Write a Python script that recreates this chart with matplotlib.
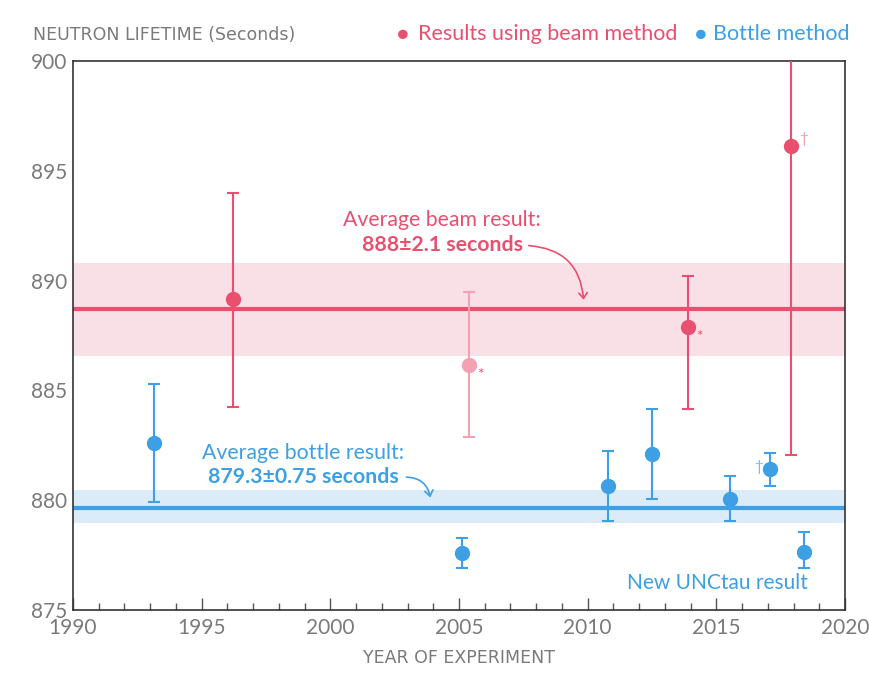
import matplotlib
matplotlib.use("Agg")
import matplotlib.pyplot as plt
from matplotlib.patches import FancyArrowPatch
from matplotlib.ticker import MultipleLocator

plt.rcParams['font.family'] = ['Lato', 'DejaVu Sans']

# Beam method results
beam_years = [1996.2, 2013.9, 2017.9]
beam_vals = [889.15, 887.9, 896.15]
beam_lo = [884.25, 884.15, 882.05]
beam_hi = [894.0, 890.2, 904.0]

# Beam result shown faded
faded_years = [2005.4]
faded_vals = [886.15]
faded_lo = [882.9]
faded_hi = [889.5]

# Bottle method results
bottle_years = [1993.15, 2005.1, 2010.8, 2012.5, 2015.55, 2017.1, 2018.4]
bottle_vals = [882.6, 877.6, 880.65, 882.1, 880.05, 881.4, 877.65]
bottle_lo = [879.9, 876.9, 879.05, 880.05, 879.05, 880.65, 876.9]
bottle_hi = [885.3, 878.3, 882.25, 884.15, 881.1, 882.15, 878.55]

beam_avg, beam_band = 888.7, (886.55, 890.8)
bottle_avg, bottle_band = 879.65, (878.95, 880.45)

RED = "#E9506F"
RED_LIGHT = "#F3A1B3"
BLUE = "#3D9FE4"
GRAY = "#7a7a7a"

fig = plt.figure(figsize=(8.69, 6.81), dpi=100)
ax = fig.add_axes([0.084, 0.1043, 0.8884, 0.8061])
ax.set_xlim(1990, 2020)
ax.set_ylim(875, 900)

ax.axhspan(*beam_band, color="#F9DFE6", lw=0, zorder=0)
ax.axhspan(*bottle_band, color="#DBEBF8", lw=0, zorder=0)
ax.axhline(beam_avg, color=RED, lw=3, zorder=1)
ax.axhline(bottle_avg, color=BLUE, lw=3, zorder=1)

def errs(v, lo, hi):
    return [[a - b for a, b in zip(v, lo)], [c - a for a, c in zip(v, hi)]]

ax.errorbar(beam_years, beam_vals, yerr=errs(beam_vals, beam_lo, beam_hi), fmt="o",
            color=RED, ms=10, elinewidth=1.5, capsize=4, capthick=1.5, zorder=3)
ax.errorbar(faded_years, faded_vals, yerr=errs(faded_vals, faded_lo, faded_hi), fmt="o",
            color=RED_LIGHT, ms=10, elinewidth=1.5, capsize=4, capthick=1.5, zorder=3)
ax.errorbar(bottle_years, bottle_vals, yerr=errs(bottle_vals, bottle_lo, bottle_hi), fmt="o",
            color=BLUE, ms=10, elinewidth=1.5, capsize=4, capthick=1.5, zorder=3)

# markers next to points
ax.text(2005.4 + 0.3, 886.15 - 0.45, "*", color=RED, fontsize=11, ha="left", va="center")
ax.text(2013.9 + 0.3, 887.9 - 0.45, "*", color=RED, fontsize=11, ha="left", va="center")
ax.text(2017.9 + 0.3, 896.15 + 0.3, "†", color=RED_LIGHT, fontsize=11, ha="left", va="center")
ax.text(2017.1 - 0.3, 881.5, "†", color="#7BBDEC", fontsize=11, ha="right", va="center")

# annotations
ax.text(2004.34, 892.75, "Average beam result:", color=RED, fontsize=15.3, ha="center", va="center")
ax.text(2004.34, 891.6, "888±2.1 seconds", color=RED, fontsize=15.3, fontweight="bold",
        ha="center", va="center")
ax.add_patch(FancyArrowPatch((2007.6, 891.6), (2009.85, 889.0), connectionstyle="arc3,rad=-0.45",
                             arrowstyle="->,head_length=4,head_width=3", color=RED, lw=1.2, zorder=4))
ax.text(1998.94, 882.15, "Average bottle result:", color=BLUE, fontsize=15.3, ha="center", va="center")
ax.text(1998.94, 881.05, "879.3±0.75 seconds", color=BLUE, fontsize=15.3, fontweight="bold",
        ha="center", va="center")
ax.add_patch(FancyArrowPatch((2002.85, 881.05), (2003.9, 880.0), connectionstyle="arc3,rad=-0.45",
                             arrowstyle="->,head_length=4,head_width=3", color=BLUE, lw=1.2, zorder=4))
ax.text(2018.57, 876.25, "New UNCtau result", color=BLUE, fontsize=15, ha="right", va="center")

# axes styling
for s in ax.spines.values():
    s.set_color("#333333")
    s.set_linewidth(1.2)
ax.xaxis.set_major_locator(MultipleLocator(5))
ax.xaxis.set_minor_locator(MultipleLocator(1))
ax.yaxis.set_major_locator(MultipleLocator(5))
ax.tick_params(axis="x", which="major", direction="in", length=9, width=1, color="#555555",
               labelsize=15, labelcolor=GRAY, pad=6)
ax.tick_params(axis="x", which="minor", direction="in", length=5, width=1, color="#555555")
ax.tick_params(axis="y", which="major", length=0, labelsize=15, labelcolor=GRAY, pad=4)
ax.set_xlabel("YEAR OF EXPERIMENT", color=GRAY, fontsize=12.5, labelpad=8, family="DejaVu Sans")

fig.text(0.038, 0.948, "NEUTRON LIFETIME (Seconds)", color=GRAY, fontsize=12.5,
         ha="left", va="center", family="DejaVu Sans")

# legend
fig.text(0.457, 0.950, "●", color=RED, fontsize=14, ha="left", va="center")
fig.text(0.481, 0.950, "Results using beam method", color=RED, fontsize=15.5, ha="left", va="center")
fig.text(0.800, 0.950, "●", color=BLUE, fontsize=14, ha="left", va="center")
fig.text(0.821, 0.950, "Bottle method", color=BLUE, fontsize=15.5, ha="left", va="center")

fig.savefig("out.png", dpi=100, facecolor="white")
